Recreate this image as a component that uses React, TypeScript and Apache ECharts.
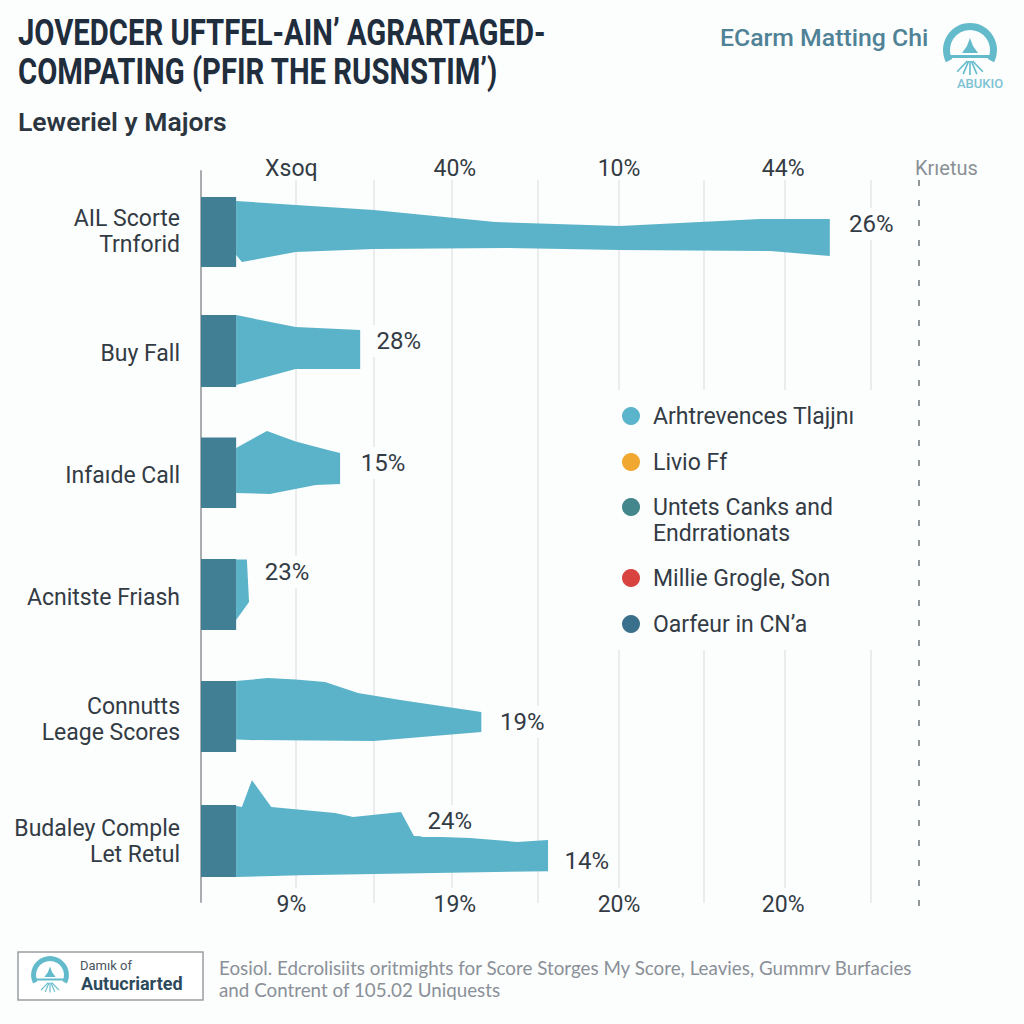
import React, { useEffect, useRef } from "react";
import * as echarts from "echarts";

const categories = ["AIL Scorte\nTrnforid", "Buy Fall", "Infaıde Call", "Acnitste Friash", "Connutts\nLeage Scores", "Budaley Comple\nLet Retul"];
const coreEnd = 4.9;
const coreTop = [-28.7, -31.8, -31.3, -31.5, -31.4, -29.6];
const coreBottom = [28.8, 27.3, 26.6, 26.8, 26.9, 29.5];
const outlineX = [
  [4.9, 13.2, 24.1, 41.0, 58.4, 78.0, 87.7, 87.7, 79.4, 58.4, 42.4, 24.1, 13.2, 5.7, 4.9],
  [4.9, 13.2, 22.2, 22.2, 13.2, 4.9],
  [4.9, 9.2, 13.2, 17.7, 19.4, 19.4, 16.0, 9.6, 4.9],
  [4.9, 6.4, 6.7, 4.9],
  [4.9, 9.3, 13.2, 17.3, 21.9, 27.8, 39.1, 39.1, 24.1, 6.8, 4.9],
  [4.9, 5.7, 7.1, 9.8, 18.7, 21.2, 27.9, 29.7, 37.5, 44.1, 48.4, 48.4, 13.8, 4.9],
];
const outlineOffset = [
  [-25.4, -22.1, -18.0, -8.1, -4.8, -10.6, -10.6, 19.8, 15.7, 14.9, 13.2, 14.0, 16.5, 24.7, 19.0],
  [-31.8, -21.9, -19.5, 12.6, 12.6, 25.7],
  [-22.7, -36.6, -27.9, -21.0, -18.6, 6.9, 7.7, 15.1, 14.3],
  [-31.1, -31.1, 3.8, 18.6],
  [-31.4, -33.8, -32.6, -30.5, -21.5, -15.8, -5.9, 10.5, 17.9, 17.1, 16.7],
  [-28.8, -28.0, -50.0, -28.0, -23.1, -19.8, -23.9, -4.2, -2.5, 0.7, -0.9, 24.7, 28.0, 29.5],
];
const valueLabels = [["26%"], ["28%"], ["15%"], ["23%"], ["19%"], ["24%", "14%"]];
const valueLabelX = [[93.5], [27.6], [25.4], [12.0], [44.8], [34.7, 53.8]];
const valueLabelOffset = [[-6.5], [-10.4], [-10.3], [-20.9], [2.3], [-16.5, 16.3]];
const gridValues = [13.2, 24.1, 35.0, 47.0, 58.2, 70.1, 81.4, 93.4];
const topTickValues = [12.6, 35.4, 58.3, 81.2];
const topTickLabels = ["Xsoq", "40%", "10%", "44%"];
const bottomTickValues = [12.6, 35.4, 58.3, 81.2];
const bottomTickLabels = ["9%", "19%", "20%", "20%"];
const legendNames = ["Arhtrevences Tlajjnı", "Livio Ff", "Untets Canks and\nEndrrationats", "Millie Grogle, Son", "Oarfeur in CN’a"];
const legendColors = ["#5AB4CC", "#F0A830", "#43878C", "#D8433F", "#3A708C"];
const titleText = "JOVEDCER UFTFEL-AIN’ AGRARTAGED-\nCOMPATING (PFIR THE RUSNSTIM’)";
const subtitleText = "Leweriel y Majors";
const brandText = "ECarm Matting Chi";
const noteText = "Eosiol. Edcrolisiits oritmights for Score Storges My Score, Leavies, Gummrv Burfacies\nand Contrent of 105.02 Uniquests";

const INK = "#333b44";
const BG = "#fcfdfd";
const TEAL = "#5AB3C9";
const CORE = "#417F95";
const FONT = "Roboto, 'Open Sans', sans-serif";

function renderBars(params: any, api: any) {
  const i = params.dataIndex;
  const band = api.size([0, 1])[1];
  const pt = (x: number, off: number) => {
    const c = api.coord([x, i]);
    return [c[0], c[1] + (off / 100) * band];
  };
  const children: any[] = [
    {
      type: "polygon",
      shape: { points: outlineX[i].map((x, k) => pt(x, outlineOffset[i][k])) },
      style: { fill: TEAL },
    },
    {
      type: "polygon",
      shape: { points: [pt(0, coreTop[i]), pt(coreEnd, coreTop[i]), pt(coreEnd, coreBottom[i]), pt(0, coreBottom[i])] },
      style: { fill: CORE },
    },
  ];
  valueLabels[i].forEach((t, k) => {
    const p = pt(valueLabelX[i][k], valueLabelOffset[i][k]);
    children.push({
      type: "text",
      x: p[0],
      y: p[1],
      style: {
        text: t,
        fill: INK,
        font: `400 24px ${FONT}`,
        align: "center",
        verticalAlign: "middle",
        backgroundColor: BG,
        padding: [4, 6],
      },
    });
  });
  return { type: "group", children };
}

// Axis tick labels, placed through the x scale; y is a category centre plus an offset in bands.
function renderTicks(values: number[], labels: string[], row: number, offset: number) {
  return (params: any, api: any) => {
    const i = params.dataIndex;
    const band = api.size([0, 1])[1];
    const c = api.coord([values[i], row]);
    return {
      type: "text",
      x: c[0],
      y: c[1] + offset * band,
      style: {
        text: labels[i],
        fill: INK,
        font: `400 23px ${FONT}`,
        align: "center",
        verticalAlign: "middle",
      },
    };
  };
}

function logo(cx: number, cy: number, s: number, color: string) {
  const rays = [-40, -20, 0, 20, 40].map((a) => {
    const r = (a * Math.PI) / 180;
    return {
      type: "line",
      shape: {
        x1: cx + Math.sin(r) * 4 * s,
        y1: cy + 11 * s,
        x2: cx + Math.sin(r) * 20 * s,
        y2: cy + 11 * s + Math.cos(r) * 14 * s,
      },
      style: { stroke: color, lineWidth: 1.6 * s },
    };
  });
  return [
    {
      type: "sector",
      shape: { cx, cy, r: 27 * s, r0: 20 * s, startAngle: Math.PI * 0.85, endAngle: Math.PI * 2.15 },
      style: { fill: color },
    },
    {
      type: "polygon",
      shape: {
        points: [
          [cx, cy - 12 * s],
          [cx + 3 * s, cy - 4 * s],
          [cx + 8 * s, cy + 3 * s],
          [cx - 8 * s, cy + 3 * s],
          [cx - 3 * s, cy - 4 * s],
        ],
      },
      style: { fill: color },
    },
    {
      type: "rect",
      shape: { x: cx - 24 * s, y: cy + 5 * s, width: 48 * s, height: 3 * s },
      style: { fill: color },
    },
    ...rays,
  ];
}

export default function App() {
  const ref = useRef<HTMLDivElement>(null);
  useEffect(() => {
    document.body.style.margin = "0";
    const chart = echarts.init(ref.current!, null, { renderer: "svg" });
    const gridEnds = [888, 903, 888, 903, 888, 903, 888, 903];
    chart.setOption({
      animation: false,
      backgroundColor: BG,
      textStyle: { fontFamily: FONT },
      title: [
        {
          text: subtitleText,
          left: 18,
          top: 108,
          padding: 0,
          textStyle: { fontFamily: FONT, fontSize: 26.5, fontWeight: 600, color: "#2b3640" },
        },
        {
          text: brandText,
          left: 720,
          top: 25,
          padding: 0,
          textStyle: { fontFamily: FONT, fontSize: 24.8, fontWeight: 500, color: "#4F8296" },
        },
      ],
      grid: { left: 201, right: 106, top: 171, bottom: 122 },
      xAxis: {
        type: "value",
        min: 0,
        max: 100,
        axisLine: { show: false },
        axisTick: { show: false },
        splitLine: { show: false },
        axisLabel: { show: false },
      },
      yAxis: {
        type: "category",
        inverse: true,
        data: categories,
        axisLine: { show: true, lineStyle: { color: "#a9adb0", width: 2 } },
        axisTick: { show: false },
        splitLine: { show: false },
        axisLabel: { fontSize: 23, color: INK, margin: 21, lineHeight: 26, align: "right" },
      },
      series: [
        {
          type: "custom",
          clip: false,
          z: 3,
          data: categories.map((_, i) => [0, i]),
          encode: { x: 0, y: 1 },
          renderItem: renderBars,
          markLine: {
            silent: true,
            symbol: "none",
            z: 1,
            label: { show: false },
            data: [
              ...gridValues.map((v, k) => [
                { xAxis: v, y: 180, lineStyle: { type: "solid", color: "#e4e6e7", width: 1.5 } },
                { xAxis: v, y: gridEnds[k] },
              ]),
              [
                { xAxis: 100.1, y: 180, lineStyle: { type: [6, 14], color: "#8f9699", width: 2 } },
                { xAxis: 100.1, y: 910 },
              ],
            ],
          },
        },
        {
          type: "custom",
          clip: false,
          z: 4,
          data: topTickValues.map((v) => [v, 0]),
          encode: { x: 0, y: 1 },
          renderItem: renderTicks(topTickValues, topTickLabels, 0, -0.52),
        },
        {
          type: "custom",
          clip: false,
          z: 4,
          data: bottomTickValues.map((v) => [v, 5]),
          encode: { x: 0, y: 1 },
          renderItem: renderTicks(bottomTickValues, bottomTickLabels, 5, 0.52),
        },
      ],
      graphic: [
        {
          type: "text",
          z: 5,
          x: 18,
          y: 13,
          scaleX: 0.813,
          style: {
            text: titleText,
            fill: "#1f2d3d",
            font: `700 36px ${FONT}`,
            lineHeight: 39,
          },
        },
        {
          type: "text",
          z: 5,
          x: 915,
          y: 158,
          style: { text: "Krıetus", fill: "#8a9196", font: `400 20px ${FONT}` },
        },
        { type: "rect", z: 2, shape: { x: 600, y: 390, width: 305, height: 260 }, style: { fill: BG } },
        ...legendNames.flatMap((name, i) => {
          const ys = [416, 462, 507, 578, 624];
          return [
            { type: "circle", z: 5, shape: { cx: 631, cy: ys[i], r: 9 }, style: { fill: legendColors[i] } },
            {
              type: "text",
              z: 5,
              x: 653,
              y: ys[i] - 13,
              style: { text: name, fill: INK, font: `400 23px ${FONT}`, lineHeight: 26 },
            },
          ];
        }),
        ...logo(970, 50, 1, "#62BACB").map((e) => ({ ...e, z: 5 })),
        {
          type: "text",
          z: 5,
          x: 957,
          y: 77,
          style: { text: "ABUKIO", fill: "#7CC3D4", font: `500 13px ${FONT}` },
        },
        {
          type: "rect",
          z: 4,
          shape: { x: 18, y: 952, width: 185, height: 48 },
          style: { fill: "#fff", stroke: "#9a9ea2", lineWidth: 1.5 },
        },
        ...logo(50, 975, 0.7, "#62BACB").map((e) => ({ ...e, z: 5 })),
        {
          type: "text",
          z: 5,
          x: 80,
          y: 959,
          style: { text: "Damık of", fill: "#4a5560", font: `400 13px ${FONT}` },
        },
        {
          type: "text",
          z: 5,
          x: 81,
          y: 974,
          style: { text: "Autucriarted", fill: "#2D4A5C", font: `700 18px ${FONT}` },
        },
        {
          type: "text",
          z: 5,
          x: 219,
          y: 956,
          style: { text: noteText, fill: "#8A9098", font: `400 18.8px Lato, ${FONT}`, lineHeight: 22 },
        },
      ],
    });
    return () => chart.dispose();
  }, []);
  return <div ref={ref} style={{ position: "absolute", left: 0, top: 0, width: 1024, height: 1024 }} />;
}
